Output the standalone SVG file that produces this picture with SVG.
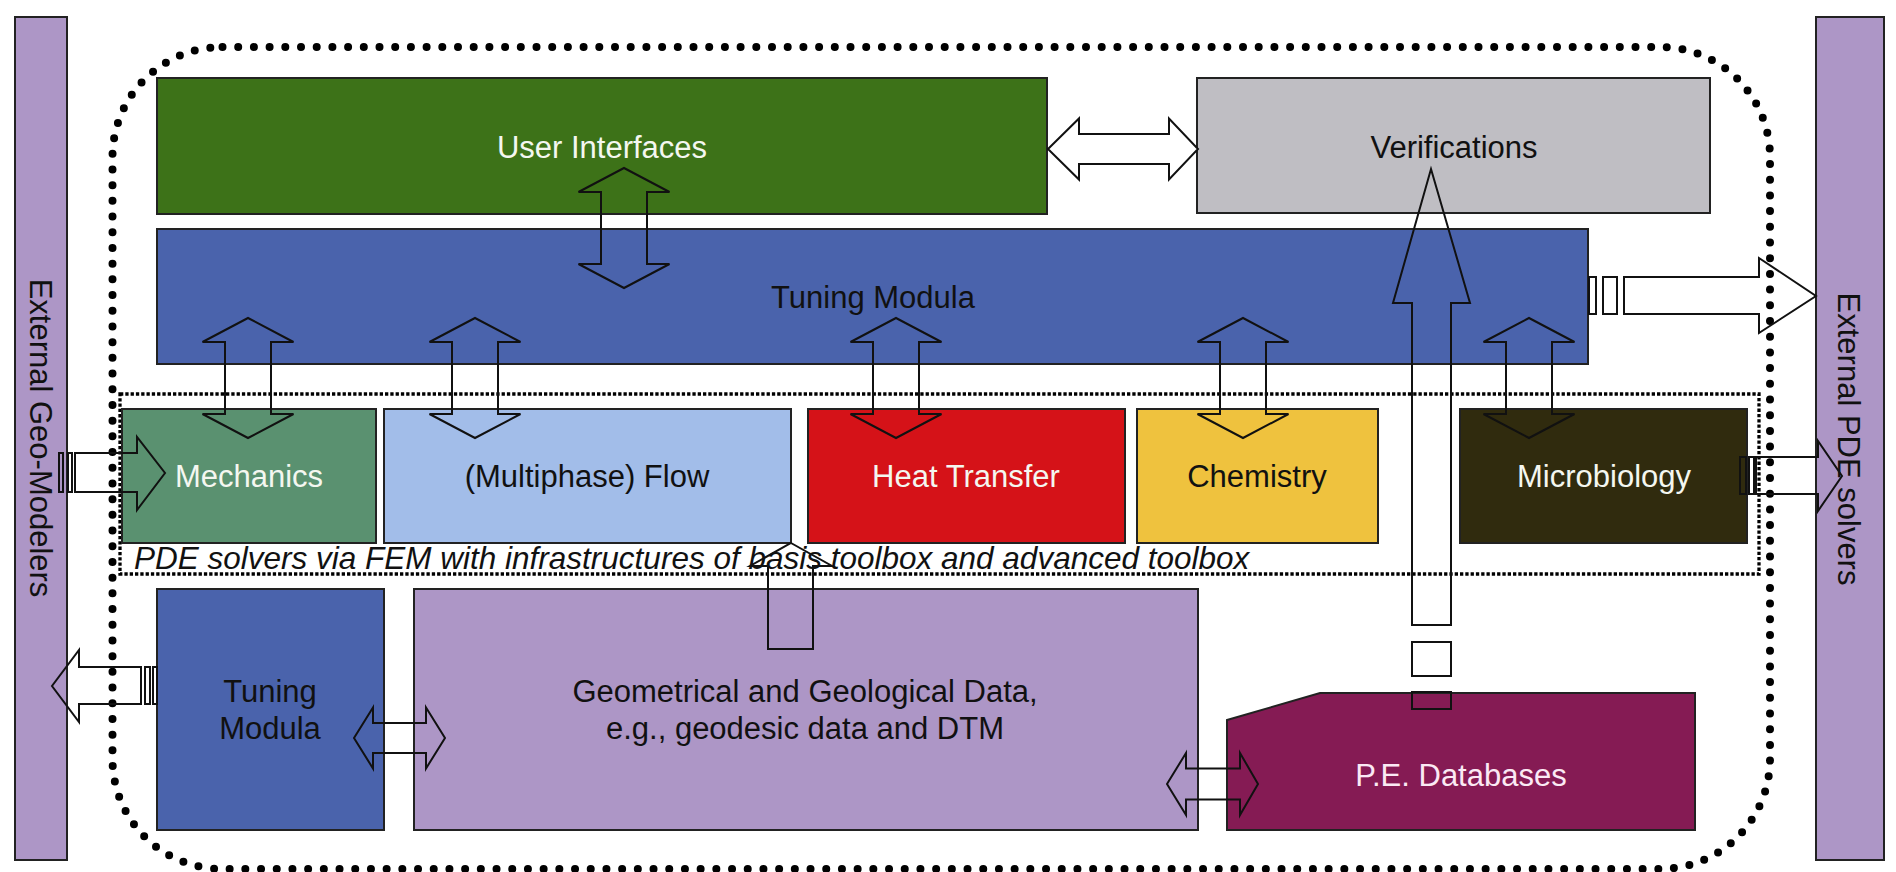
<svg xmlns="http://www.w3.org/2000/svg" xmlns:xlink="http://www.w3.org/1999/xlink" width="1896" height="872" viewBox="0 0 1896 872">
<style>
.box{stroke:#222;stroke-width:2}
.lbl{font-family:"Liberation Sans",Arial,sans-serif;font-size:31px;text-anchor:middle}
.dark{fill:#111}
.light{fill:#f4f7f0}
.arr{fill:none;stroke:#111;stroke-width:2;stroke-linejoin:miter}
.warr{fill:#fff;stroke:#111;stroke-width:2}
</style>
<defs>
<path id="vdbl" d="M0,0 L45.5,24 L23,24 L23,96 L45.5,96 L0,120 L-45.5,96 L-23,96 L-23,24 L-45.5,24 Z"/>
</defs>
<rect width="1896" height="872" fill="#fff"/>

<g id="external-geo-modelers">
<rect class="box" x="15" y="17" width="52" height="843" fill="#ad96c6"/>
<text class="lbl dark" transform="translate(41,438) rotate(90)" y="11">External Geo-Modelers</text>
</g>
<g id="external-pde-solvers">
<rect class="box" x="1816" y="17" width="68" height="843" fill="#ad96c6"/>
<text class="lbl dark" transform="translate(1849,439) rotate(90)" y="11">External PDE solvers</text>
</g>

<g id="outer-boundary">
<rect x="112.5" y="47" width="1657.5" height="822" rx="110" ry="110" fill="none" stroke="#000" stroke-width="8" stroke-linecap="round" stroke-dasharray="0 15.7"/>
</g>

<g id="user-interfaces">
<rect class="box" x="157" y="78" width="890" height="136" fill="#3d7218"/>
<text class="lbl light" x="602" y="158">User Interfaces</text>
</g>
<g id="verifications">
<rect class="box" x="1197" y="78" width="513" height="135" fill="#bfbec3"/>
<text class="lbl dark" x="1454" y="158">Verifications</text>
</g>
<g id="tuning-modula-main">
<rect class="box" x="157" y="229" width="1431" height="135" fill="#4a63ac"/>
<text class="lbl dark" x="873" y="308">Tuning Modula</text>
</g>

<g id="pde-solvers-group">
<rect x="120" y="394" width="1639" height="180" fill="none" stroke="#000" stroke-width="3.3" stroke-dasharray="3.3 2"/>
<text x="134" y="569" font-family="'Liberation Sans',Arial,sans-serif" font-size="31.5" font-style="italic" fill="#111">PDE solvers via FEM with infrastructures of basis toolbox and advanced toolbox</text>
</g>
<g id="mechanics">
<rect class="box" x="122" y="409" width="254" height="134" fill="#5a9170"/>
<text class="lbl light" x="249" y="487">Mechanics</text>
</g>
<g id="multiphase-flow">
<rect class="box" x="384" y="409" width="407" height="134" fill="#a2bde9"/>
<text class="lbl dark" x="587" y="487">(Multiphase) Flow</text>
</g>
<g id="heat-transfer">
<rect class="box" x="808" y="409" width="317" height="134" fill="#d51218"/>
<text class="lbl light" x="966" y="487">Heat Transfer</text>
</g>
<g id="chemistry">
<rect class="box" x="1137" y="409" width="241" height="134" fill="#efc23e"/>
<text class="lbl dark" x="1257" y="487">Chemistry</text>
</g>
<g id="microbiology">
<rect class="box" x="1460" y="409" width="287" height="134" fill="#302b0e"/>
<text class="lbl light" x="1604" y="487">Microbiology</text>
</g>

<g id="tuning-modula-small">
<rect class="box" x="157" y="589" width="227" height="241" fill="#4a63ac"/>
<text class="lbl dark" x="270" y="702">Tuning</text>
<text class="lbl dark" x="270" y="739">Modula</text>
</g>
<g id="geo-data">
<rect class="box" x="414" y="589" width="784" height="241" fill="#ad96c6"/>
<text class="lbl dark" x="805" y="702">Geometrical and Geological Data,</text>
<text class="lbl dark" x="805" y="739">e.g., geodesic data and DTM</text>
</g>
<g id="pe-databases">
<path class="box" d="M1227,720 L1320,693 L1695,693 L1695,830 L1227,830 Z" fill="#851b54"/>
<text class="lbl" fill="#fbe9f4" x="1461" y="786">P.E. Databases</text>
</g>

<g id="connectors">
<use href="#vdbl" class="arr" transform="translate(624,168)"/>
<use href="#vdbl" class="arr" transform="translate(248,318)"/>
<use href="#vdbl" class="arr" transform="translate(475,318)"/>
<use href="#vdbl" class="arr" transform="translate(896,318)"/>
<use href="#vdbl" class="arr" transform="translate(1243,318)"/>
<use href="#vdbl" class="arr" transform="translate(1529,318)"/>
<path class="warr" d="M1048,149 L1079,118.5 L1079,134 L1169,134 L1169,118.5 L1198,149 L1169,179.5 L1169,164 L1079,164 L1079,179.5 Z"/>
<path class="arr" d="M354,738 L373,707.5 L373,723 L426,723 L426,707.5 L445,738 L426,768.5 L426,753 L373,753 L373,768.5 Z"/>
<path class="arr" d="M1167,784 L1186,753 L1186,768.5 L1240,768.5 L1240,753 L1258,784 L1240,815 L1240,799.5 L1186,799.5 L1186,815 Z"/>
<path class="arr" d="M1431,169 L1470,303 L1451,303 L1451,625 L1412,625 L1412,303 L1393,303 Z"/>
<rect class="arr" x="1412" y="642" width="39" height="34"/>
<rect class="arr" x="1412" y="692" width="39" height="17"/>
<path class="arr" d="M791,543 L832,566 L813,566 L813,649 L768,649 L768,566 L750,566 Z"/>
<rect class="arr" x="1589" y="277" width="7" height="37"/>
<rect class="arr" x="1603" y="277" width="14" height="37"/>
<path class="arr" d="M1624,277 L1759,277 L1759,258 L1816,296 L1759,333 L1759,314 L1624,314 Z"/>
<rect class="arr" x="59" y="453" width="4" height="39"/>
<rect class="arr" x="68" y="453" width="4" height="39"/>
<path class="arr" d="M75,453 L137,453 L137,437 L165,473 L137,510 L137,492 L75,492 Z"/>
<rect class="arr" x="1740" y="457" width="6" height="37"/>
<rect class="arr" x="1749" y="457" width="5" height="37"/>
<path class="arr" d="M1756,457 L1818,457 L1818,441 L1842,476 L1818,511 L1818,494 L1756,494 Z"/>
<path class="arr" d="M141,667 L79,667 L79,650 L52,686 L79,722 L79,704 L141,704 Z"/>
<rect class="arr" x="145" y="667" width="5" height="37"/>
<rect class="arr" x="153" y="667" width="4" height="37"/>
</g>
</svg>
